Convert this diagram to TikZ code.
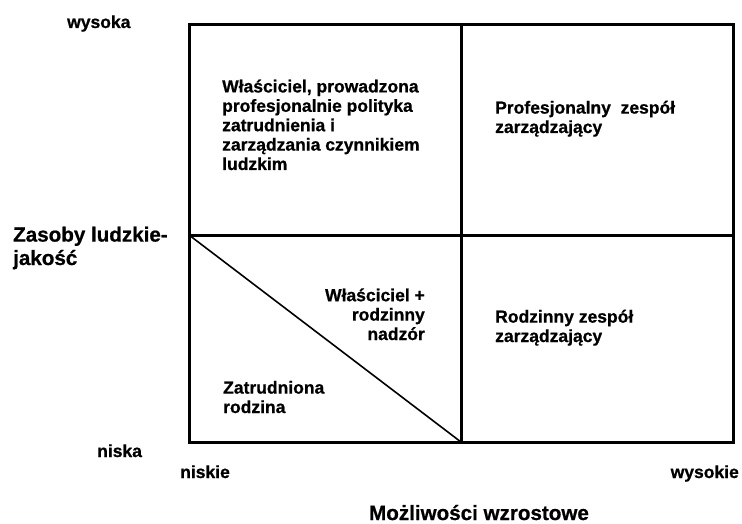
\documentclass[tikz,border=0pt]{standalone}
\usepackage{fontspec}
\setmainfont{Liberation Sans}[BoldFeatures={FakeBold=0.8}]
\begin{document}
\begin{tikzpicture}[x=1pt,y=-1pt,line cap=rect,
  lbl/.style={font=\fontsize{17.5}{19.4}\selectfont\bfseries,inner sep=0pt},
  big/.style={font=\fontsize{20.6}{23.4}\selectfont\bfseries,inner sep=0pt}]
\useasboundingbox (0,0) rectangle (742,524);
\def\L{189} \def\M{461} \def\R{733}
\def\T{25} \def\C{235} \def\B{442}
% frame and quadrants
\coordinate (nw) at (\L,\T);
\coordinate (se) at (\R,\B);
\coordinate (midtop) at (\M,\T);
\coordinate (midbot) at (\M,\B);
\coordinate (midleft) at (\L,\C);
\coordinate (midright) at (\R,\C);
\draw[line width=3pt] (nw) rectangle (se);
\draw[line width=3pt] (midtop) -- (midbot);
\draw[line width=3pt] (midleft) -- (midright);
% diagonal in lower left quadrant
\draw[line width=1.6pt] (midleft) -- (midbot);
% axis labels (multi-line nodes sit on their last baseline)
\node[lbl,anchor=base west] (yhigh) at (67,28) {wysoka};
\node[lbl,anchor=base west] (ylow) at (97,457) {niska};
\node[big,anchor=base west,align=left] (yaxis) at (13,265) {Zasoby ludzkie-\\jakość};
\node[lbl,anchor=base west] (xlow) at (180,478) {niskie};
\node[lbl,anchor=base east] (xhigh) at (739,478) {wysokie};
\node[big,anchor=base] (xaxis) at (479,520) {Możliwości wzrostowe};
% quadrant texts
\node[lbl,anchor=base west,align=left] (owner) at (222,170)
  {Właściciel, prowadzona\\profesjonalnie polityka\\zatrudnienia i\\zarządzania czynnikiem\\ludzkim};
\node[lbl,anchor=base west,align=left] (prof) at (495,133)
  {Profesjonalny\ \ zespół\\zarządzający};
\node[lbl,anchor=base east,align=right] (ownerfam) at (425,340)
  {Właściciel +\\rodzinny\\nadzór};
\node[lbl,anchor=base west,align=left] (famemp) at (223,413)
  {Zatrudniona\\rodzina};
\node[lbl,anchor=base west,align=left] (famteam) at (495,342)
  {Rodzinny zespół\\zarządzający};
\end{tikzpicture}
\end{document}
